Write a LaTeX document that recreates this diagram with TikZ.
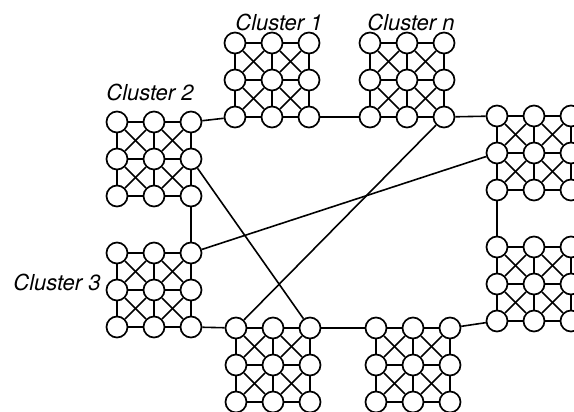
\documentclass[tikz,border=0pt]{standalone}
\usepackage{fontspec}
\setmainfont{TeX Gyre Heros}
% One cluster: a 3x3 grid of processors, joined to their row/column
% neighbours and crosswise inside every cell of the grid.
% #1 = name prefix, #2/#3 = centre of the top-left processor
\newcommand\mkcluster[3]{%
  \foreach \i in {0,1,2}{\foreach \j in {0,1,2}{
    \node[proc] (#1-\i-\j) at ({#2+37*\i},{#3+37*\j}) {};}}
  \foreach \i/\ii in {0/1,1/2}{\foreach \j in {0,1,2}{
    \draw[link] (#1-\i-\j) -- (#1-\ii-\j);
    \draw[link] (#1-\j-\i) -- (#1-\j-\ii);}}
  \foreach \i/\ii in {0/1,1/2}{\foreach \j/\jj in {0/1,1/2}{
    \draw[link] (#1-\i-\j) -- (#1-\ii-\jj);
    \draw[link] (#1-\ii-\j) -- (#1-\i-\jj);}}%
}
\begin{document}
\begin{tikzpicture}[x=1pt,y=-1pt,
  proc/.style={circle,draw=black,fill=white,line width=1.7pt,
    minimum size=21pt,inner sep=0pt},
  link/.style={draw=black,line width=1.6pt},
  clabel/.style={font=\fontsize{22}{25}\selectfont\itshape,inner sep=0pt}]
\useasboundingbox (0,0) rectangle (574,412);
\clip (0,0) rectangle (574,412);
\fill[white] (0,0) rectangle (574,412);

\mkcluster{ca}{235}{43}
\mkcluster{cn}{370}{43}
\mkcluster{cb}{117}{122}
\mkcluster{cc}{117}{253}
\mkcluster{ba}{236}{328}
\mkcluster{bb}{376}{328}
\mkcluster{ra}{497}{116}
\mkcluster{rb}{497}{247}

% links between clusters
\draw[link] (cb-2-0) -- (ca-0-2);
\draw[link] (ca-2-2) -- (cn-0-2);
\draw[link] (cn-2-2) -- (ra-0-0);
\draw[link] (ra-0-2) -- (rb-0-0);
\draw[link] (rb-0-2) -- (bb-2-0);
\draw[link] (bb-0-0) -- (ba-2-0);
\draw[link] (ba-0-0) -- (cc-2-2);
\draw[link] (cc-2-0) -- (cb-2-2);
\draw[link] (cb-2-1) -- (ba-2-0);
\draw[link] (cn-2-2) -- (ba-0-0);
\draw[link] (cc-2-0) -- (ra-0-1);

\node[clabel] (l1) at (279,22) {Cluster 1};
\node[clabel] (ln) at (411,22) {Cluster n};
\node[clabel] (l2) at (150,92) {Cluster 2};
\node[clabel] (l3) at (57,282) {Cluster 3};
\end{tikzpicture}
\end{document}
